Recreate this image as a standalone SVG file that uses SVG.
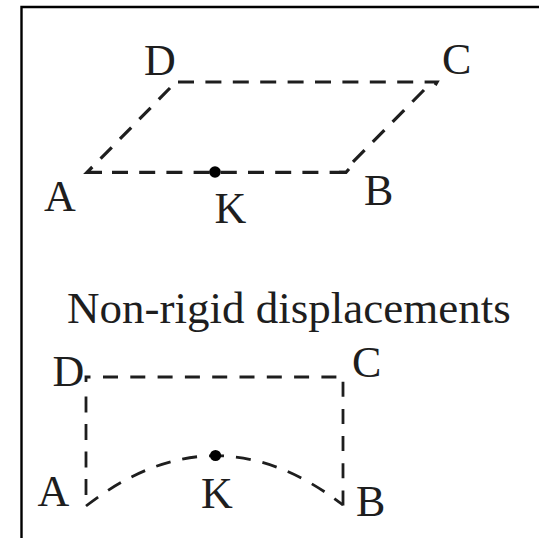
<svg xmlns="http://www.w3.org/2000/svg" width="539" height="538" viewBox="0 0 539 538">
<style>
.lbl{font-family:"Liberation Serif","Times New Roman",serif;font-size:44px;fill:#1e1e1e}
.title{font-family:"Liberation Serif","Times New Roman",serif;font-size:45px;fill:#1e1e1e}
.dsh{fill:none;stroke:#1e1e1e;stroke-width:3.2}
.dsh2{fill:none;stroke:#1e1e1e;stroke-width:2.8}
.sol{fill:none;stroke:#1e1e1e;stroke-width:3.2}
.sol2{fill:none;stroke:#1e1e1e;stroke-width:2.8}
.dot{fill:#000}
</style>
<rect width="539" height="538" fill="#fff"/>
<g id="frame">
<path d="M21.5,538 V7 H539" fill="none" stroke="#000" stroke-width="2.4"/>
</g>
<g id="connectors">
<!-- top parallelogram -->
<path class="dsh" d="M178,82 H437 L435,85.5" stroke-dasharray="16 11.4"/>
<path class="dsh" d="M424,90 L353,162" stroke-dasharray="16.5 11.7"/>
<path class="dsh" d="M170,88 L100.5,158.8" stroke-dasharray="16 11.7"/>
<path class="sol" d="M92.3,167 L87,172.3 H102"/>
<path class="dsh" d="M112,172.3 H346" stroke-dasharray="16 11.2"/>
<path class="sol" d="M339,172.3 H346 L349,169"/>
<!-- bottom non-rigid figure -->
<path class="sol2" d="M86,382 V377 H90.5"/>
<path class="dsh2" d="M86,396.5 V506" stroke-dasharray="16 11.5"/>
<path class="dsh2" d="M103,377 H338" stroke-dasharray="15 12.3"/>
<path class="dsh2" d="M343,381.7 V505.5" stroke-dasharray="15 12.2"/>
<path class="dsh2" d="M86,506 Q215,406 343,505" stroke-dasharray="15 12"/>
</g>
<g id="node-top-D"><text class="lbl" x="144" y="75">D</text></g>
<g id="node-top-C"><text class="lbl" x="442" y="74">C</text></g>
<g id="node-top-A"><text class="lbl" x="44" y="211">A</text></g>
<g id="node-top-B"><text class="lbl" x="364" y="205">B</text></g>
<g id="node-top-K"><circle class="dot" cx="215" cy="172" r="5.8"/><text class="lbl" x="214.5" y="223">K</text></g>
<g id="title"><text class="title" x="67" y="323">Non-rigid displacements</text></g>
<g id="node-bot-D"><text class="lbl" x="52.6" y="386">D</text></g>
<g id="node-bot-C"><text class="lbl" x="352" y="377">C</text></g>
<g id="node-bot-A"><text class="lbl" x="37.6" y="506">A</text></g>
<g id="node-bot-B"><text class="lbl" x="356" y="516">B</text></g>
<g id="node-bot-K"><circle class="dot" cx="215.5" cy="455.5" r="5.6"/><text class="lbl" x="201" y="508">K</text></g>
</svg>
